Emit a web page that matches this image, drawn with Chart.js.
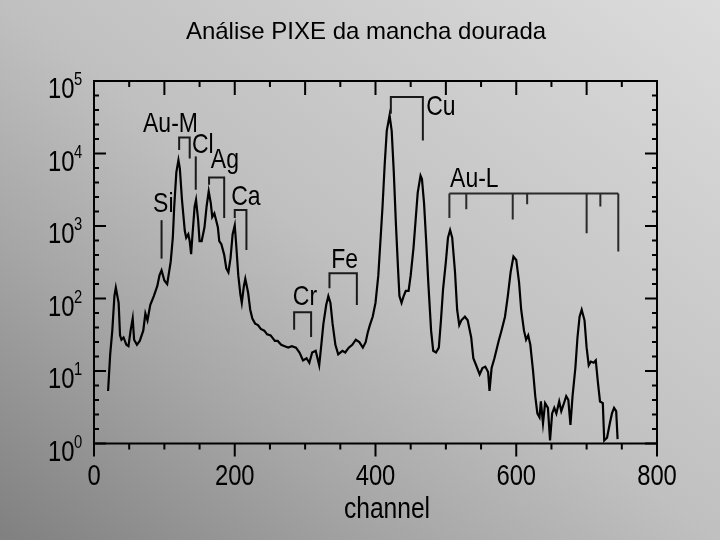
<!DOCTYPE html>
<html>
<head>
<meta charset="utf-8">
<title>Análise PIXE da mancha dourada</title>
<script src="https://cdn.jsdelivr.net/npm/chart.js@4/dist/chart.umd.min.js"></script>
<style>
  html, body { margin: 0; padding: 0; }
  body {
    width: 720px; height: 540px; overflow: hidden;
    background: linear-gradient(to top right, #808080 0%, #a6a6a6 28%, #c0c0c0 50%, #dcdcdc 100%);
  }
  canvas { display: block; }
</style>
</head>
<body>
<canvas id="pixeChart" width="720" height="540"></canvas>
<script>
// Spectrum: channel vs counts
const channels = [
  20, 23, 26, 29, 31, 35, 37, 39, 42, 46, 49, 52, 55, 57, 61, 65, 70, 73, 76, 80,
  85, 90, 93, 96, 100, 104, 109, 112, 114, 117, 120, 122, 125, 129, 131, 134, 136, 138, 140, 143,
  145, 148, 150, 153, 157, 160, 163, 166, 168, 171, 173, 176, 178, 181, 185, 188, 191, 194, 197, 200,
  202, 205, 208, 210, 213, 215, 219, 222, 225, 229, 233, 237, 242, 246, 251, 257, 261, 266, 271, 276,
  281, 287, 292, 297, 302, 306, 310, 315, 320, 323, 326, 330, 333, 336, 339, 343, 347, 353, 357, 362,
  367, 372, 377, 382, 386, 389, 392, 396, 400, 404, 407, 410, 413, 416, 420, 423, 426, 429, 432, 434,
  437, 440, 443, 447, 450, 454, 457, 460, 464, 466, 469, 472, 475, 479, 482, 486, 490, 493, 496, 500,
  503, 506, 509, 513, 516, 519, 522, 527, 531, 536, 539, 543, 548, 552, 556, 560, 562, 565, 569, 575,
  579, 584, 588, 592, 596, 600, 604, 607, 611, 614, 617, 620, 624, 627, 630, 633, 635, 638, 641, 645,
  648, 651, 654, 657, 661, 664, 667, 671, 674, 677, 680, 684, 687, 690, 693, 697, 700, 703, 706, 710,
  713, 716, 719, 723, 725, 729, 733, 736, 739, 742, 744
];
const counts = [
  5.3, 17, 36, 108, 141, 87, 31, 27, 29, 23, 22, 36, 53, 27, 23, 26, 36, 62, 50, 82,
  108, 149, 208, 245, 177, 158, 322, 690, 1860, 5500, 8100, 6200, 2300, 860, 690, 770, 620, 410, 770, 1860,
  2300, 1200, 620, 620, 960, 1860, 3000, 2050, 1330, 1490, 1260, 960, 620, 560, 400, 260, 230, 360, 770, 1020,
  560, 210, 114, 87, 149, 187, 120, 70, 53, 45, 43, 38, 36, 32, 31, 26, 26, 23, 22, 21,
  22, 21, 18, 14, 15, 13, 18, 19, 12, 23, 45, 82, 108, 87, 45, 23, 17, 19, 18, 21,
  23, 27, 25, 21, 25, 34, 43, 56, 87, 208, 620, 1860, 6900, 20500, 33600, 20500, 5500, 1070, 260, 108,
  87, 108, 127, 127, 208, 500, 1200, 2880, 4950, 4450, 2050, 620, 167, 36, 19, 18, 21, 50, 134, 322,
  690, 880, 690, 230, 70, 43, 50, 56, 50, 29, 15, 12, 9, 11, 11.5, 9.7, 5.3, 11, 15, 26,
  36, 56, 108, 230, 380, 340, 167, 70, 36, 27, 31, 23, 9.7, 4.5, 2.6, 2.3, 3.8, 1.9, 3.6, 3.1,
  1.1, 2.6, 3.1, 2.6, 3.8, 2.8, 3.4, 4.5, 4.0, 1.8, 4.5, 11, 29, 56, 70, 50, 21, 12, 13.5, 13,
  14, 7, 3.8, 3.6, 1.1, 1.2, 1.9, 2.6, 3.1, 2.8, 1.15
];

// Axis ticks
const xTickLabels = [0, 200, 400, 600, 800];
const yTickExponents = [0, 1, 2, 3, 4, 5];

// Element labels (channel of left edge, log10 counts of text baseline)
const peakLabels = [
  { text: 'Au-M', ch: 69.7, e: 4.29 },
  { text: 'Cl', ch: 139.3, e: 4.01 },
  { text: 'Ag', ch: 166, e: 3.80 },
  { text: 'Ca', ch: 195, e: 3.29 },
  { text: 'Si', ch: 84, e: 3.20 },
  { text: 'Cr', ch: 282.5, e: 1.91 },
  { text: 'Fe', ch: 337, e: 2.42 },
  { text: 'Cu', ch: 472, e: 4.53 },
  { text: 'Au-L', ch: 506, e: 3.54 }
];
// Single marker lines: channel, from/to exponent
const peakLines = [
  { ch: 96, e1: 3.08, e2: 2.55 },
  { ch: 144.6, e1: 3.96, e2: 3.50 }
];
// Brackets: left/right channel, top exponent, leg end exponents
const peakBrackets = [
  { a: 121, b: 136, top: 4.22, ea: 4.05, eb: 3.93 },
  { a: 163.5, b: 185, top: 3.67, ea: 3.57, eb: 3.11 },
  { a: 200, b: 216.6, top: 3.22, ea: 3.11, eb: 2.67 },
  { a: 284.4, b: 308.5, top: 1.81, ea: 1.57, eb: 1.47 },
  { a: 334.6, b: 373.5, top: 2.35, ea: 2.14, eb: 1.91 },
  { a: 421.8, b: 467.3, top: 4.78, ea: 4.55, eb: 4.18 }
];
// Au-L comb
const auLTop = 3.45;
const auLChannels = [505, 529, 595, 615.5, 700, 719.5, 745];
const auLEnds = [3.11, 3.23, 3.09, 3.30, 2.90, 3.27, 2.65];

const sans = "'Liberation Sans', Arial, sans-serif";

// condensed text: Liberation Sans squeezed horizontally
function narrowText(ctx, text, x, y, size, align) {
  ctx.save();
  ctx.font = size + 'px ' + sans;
  ctx.textAlign = align || 'left';
  ctx.textBaseline = 'alphabetic';
  ctx.translate(x, y);
  ctx.scale(0.82, 1);
  ctx.fillText(text, 0, 0);
  ctx.restore();
}

const decorPlugin = {
  id: 'decor',
  afterDatasetsDraw(chart) {
    const { ctx, chartArea: a, scales: { x, y } } = chart;
    const py = e => y.getPixelForValue(Math.pow(10, e));
    ctx.save();
    ctx.fillStyle = '#000';

    // title
    ctx.font = '24px ' + sans;
    ctx.textAlign = 'center';
    ctx.textBaseline = 'alphabetic';
    ctx.fillText('Análise PIXE da mancha dourada', 366, 39);

    // frame
    ctx.strokeStyle = '#000';
    ctx.lineWidth = 2;
    ctx.strokeRect(a.left, a.top, a.right - a.left, a.bottom - a.top);

    // x ticks
    for (let c = 0; c <= 800; c += 50) {
      const px = x.getPixelForValue(c);
      ctx.beginPath();
      ctx.moveTo(px, a.bottom);
      ctx.lineTo(px, a.bottom + (c % 200 === 0 ? 13 : 6));
      ctx.moveTo(px, a.top);
      ctx.lineTo(px, a.top + (c % 100 === 0 ? 14 : 6));
      ctx.stroke();
    }
    // y ticks, five per decade
    for (let k = 0; k <= 25; k++) {
      const p = py(k / 5);
      const len = k % 5 === 0 ? 12 : 5;
      ctx.beginPath();
      ctx.moveTo(a.left, p);
      ctx.lineTo(a.left + len, p);
      ctx.moveTo(a.right, p);
      ctx.lineTo(a.right - len, p);
      ctx.stroke();
    }

    // x tick labels
    xTickLabels.forEach(v => narrowText(ctx, String(v), x.getPixelForValue(v), a.bottom + 41, 29, 'center'));
    narrowText(ctx, 'channel', 387, 518, 30, 'center');

    // y tick labels 10^n
    yTickExponents.forEach(n => {
      const p = py(n);
      narrowText(ctx, '10', 48, p + 17, 29);
      narrowText(ctx, String(n), 74, p + 4, 18);
    });

    // element labels
    peakLabels.forEach(l => narrowText(ctx, l.text, x.getPixelForValue(l.ch), py(l.e), 28));

    // marker lines and brackets
    ctx.strokeStyle = '#1a1a1a';
    ctx.lineWidth = 2;
    peakLines.forEach(l => {
      const px = x.getPixelForValue(l.ch);
      ctx.beginPath();
      ctx.moveTo(px, py(l.e1));
      ctx.lineTo(px, py(l.e2));
      ctx.stroke();
    });
    peakBrackets.forEach(b => {
      const xa = x.getPixelForValue(b.a), xb = x.getPixelForValue(b.b);
      ctx.beginPath();
      ctx.moveTo(xa, py(b.ea));
      ctx.lineTo(xa, py(b.top));
      ctx.lineTo(xb, py(b.top));
      ctx.lineTo(xb, py(b.eb));
      ctx.stroke();
    });
    ctx.strokeStyle = '#2a2a2a';
    ctx.beginPath();
    ctx.moveTo(x.getPixelForValue(auLChannels[0]), py(auLTop));
    ctx.lineTo(x.getPixelForValue(auLChannels[auLChannels.length - 1]), py(auLTop));
    auLChannels.forEach((c, i) => {
      const px = x.getPixelForValue(c);
      ctx.moveTo(px, py(auLTop));
      ctx.lineTo(px, py(auLEnds[i]));
    });
    ctx.stroke();

    ctx.restore();
  }
};

new Chart(document.getElementById('pixeChart'), {
  type: 'line',
  data: {
    datasets: [{
      data: channels.map((c, i) => ({ x: c, y: counts[i] })),
      borderColor: '#000',
      borderWidth: 2.2,
      pointRadius: 0,
      tension: 0,
      fill: false
    }]
  },
  options: {
    responsive: false,
    animation: false,
    layout: { padding: { left: 94, right: 63, top: 81, bottom: 96.5 } },
    plugins: { legend: { display: false }, tooltip: { enabled: false } },
    scales: {
      x: {
        type: 'linear', min: 0, max: 800,
        grid: { display: false }, border: { display: false },
        ticks: { display: false },
        afterFit: s => { s.height = 0; }
      },
      y: {
        type: 'logarithmic', min: 1, max: 100000,
        grid: { display: false }, border: { display: false },
        ticks: { display: false },
        afterFit: s => { s.width = 0; }
      }
    }
  },
  plugins: [decorPlugin]
});
</script>
</body>
</html>
